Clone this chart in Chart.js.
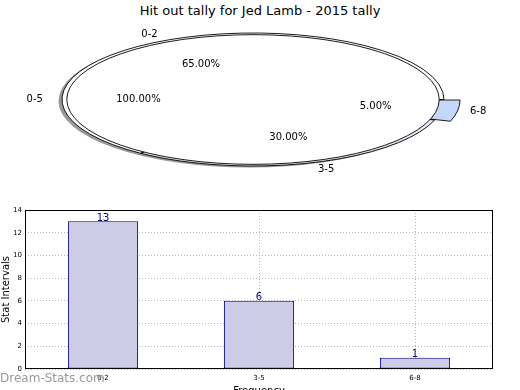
<!DOCTYPE html>
<html>
<head>
<meta charset="utf-8">
<script src="https://cdn.jsdelivr.net/npm/chart.js@4/dist/chart.umd.min.js"></script>
<style>
  html, body { margin: 0; padding: 0; background: #fff; overflow: hidden; }
  body { width: 520px; height: 390px; position: relative; font-family: "DejaVu Sans", sans-serif; }
  #title { position: absolute; left: 0; top: 3px; width: 520px; text-align: center; font-size: 13px; color: #000; }
  .pie { position: absolute; left: 0; top: 0; }
  #bar-chart { position: absolute; left: 0; top: 200px; }
  #mark { position: absolute; left: 0; top: 371px; font-size: 12px; color: #999; z-index: 2; }
</style>
</head>
<body>
<div id="title">Hit out tally for Jed Lamb - 2015 tally</div>
<canvas id="pie-slices" class="pie" width="520" height="200"></canvas>
<canvas id="pie-whole" class="pie" width="520" height="200"></canvas>
<canvas id="bar-chart" width="520" height="190"></canvas>
<div id="mark">Dream-Stats.com</div>
<script>
/* ================== DATA ================== */
const sliceLabels = ['0-2', '3-5', '6-8'];
const sliceCounts = [13, 6, 1];
const sliceColors = ['#ffffff', '#e4ebfa', '#c4d7f8'];
const sliceExplode = [0, 0, 0.05];

const wholeLabels = ['0-5'];
const wholeCounts = [20];
const wholeColors = ['#ffffff'];

const barLabels = ['0-2', '3-5', '6-8'];
const barCounts = [13, 6, 1];
const yTicks = [0, 2, 4, 6, 8, 10, 12, 14];

Chart.defaults.font.family = '"DejaVu Sans", sans-serif';
Chart.defaults.color = '#000';

/* ================== PIES (squashed into an ellipse) ================== */
const ELLIPSE_RX = 191, ELLIPSE_RY = 66.5;
const PIE_W = 520, PIE_H = 200;
const PIE_PAD = { left: 0, right: 14, top: 20, bottom: 21 };
const WHOLE_FRAC = 0.975;   // the 0-5 pie sits just inside the sliced one

// chart.js moves an arc by offset/4; both pies share one fixed radius
const maxExplode = Math.max(...sliceExplode);
const pieSide = Math.min(PIE_W - PIE_PAD.left - PIE_PAD.right, PIE_H - PIE_PAD.top - PIE_PAD.bottom);
const pieRadius = pieSide / (2 + 4 * maxExplode);

// matplotlib goes counter-clockwise from 3 o'clock, chart.js clockwise -> reverse
const rev = arr => arr.slice().reverse();

function squash(chart) {
  const arc = chart.getDatasetMeta(0).data[0];
  return { cx: arc.x, cy: arc.y, R: pieRadius, sx: ELLIPSE_RX / pieRadius, sy: ELLIPSE_RY / pieRadius };
}

function applySquash(ctx, s) {
  ctx.translate(s.cx, s.cy);
  ctx.scale(s.sx, s.sy);
  ctx.translate(-s.cx, -s.cy);
}

function arcPath(ctx, a) {
  const off = (a.options.offset || 0) / 4;
  const mid = (a.startAngle + a.endAngle) / 2;
  const fix = 1 - Math.sin(Math.min(Math.PI, a.circumference || 0));
  const grow = off * fix;
  const x = a.x + Math.cos(mid) * off, y = a.y + Math.sin(mid) * off;
  const ro = a.outerRadius + grow;
  if (a.circumference >= Math.PI * 2 - 1e-6) {
    ctx.moveTo(x + ro, y);
    ctx.arc(x, y, ro, 0, Math.PI * 2);
    return;
  }
  ctx.moveTo(x, y);
  ctx.arc(x, y, ro, a.startAngle, a.endAngle);
  ctx.closePath();
}

// labels at 1.1 r, percentages at 0.6 r (matplotlib pie defaults)
function drawPieLabels(ctx, chart, labels) {
  const s = squash(chart);
  const arcs = chart.getDatasetMeta(0).data;
  const values = chart.data.datasets[0].data;
  const total = values.reduce((p, q) => p + q, 0);
  ctx.save();
  ctx.font = '10px "DejaVu Sans", sans-serif';
  ctx.fillStyle = '#000';
  ctx.textBaseline = 'middle';
  arcs.forEach((a, i) => {
    const off = (a.options.offset || 0) / 4;
    const mid = (a.startAngle + a.endAngle) / 2;
    const cos = Math.cos(mid), sin = Math.sin(mid);
    ctx.textAlign = cos > 0 ? 'left' : 'right';
    ctx.fillText(labels[i],
      s.cx + (1.1 * s.R + off) * cos * s.sx,
      s.cy + (1.1 * s.R + off) * sin * s.sy);
    ctx.textAlign = 'center';
    ctx.fillText((values[i] / total * 100).toFixed(2) + '%',
      s.cx + (0.6 * s.R + off) * cos * s.sx,
      s.cy + (0.6 * s.R + off) * sin * s.sy);
  });
  ctx.restore();
}

// ownLabels: null -> the texts get drawn by the canvas on top instead
function ellipsePlugin(ownLabels, shadow, under) {
  return {
    id: 'ellipse',
    beforeDatasetsDraw(chart) {
      const ctx = chart.ctx;
      const s = squash(chart);
      if (shadow) {
        // offset left/down like matplotlib's shadow=True
        ctx.save();
        ctx.translate(-3.5, 1.5);
        applySquash(ctx, s);
        ctx.beginPath();
        ctx.arc(s.cx, s.cy, s.R, 0, Math.PI * 2);
        ctx.fillStyle = 'rgba(70,70,70,0.55)';
        ctx.fill();
        ctx.restore();
      }
      ctx.save();
      applySquash(ctx, s);
    },
    afterDatasetsDraw(chart) {
      const ctx = chart.ctx;
      ctx.restore();
      const s = squash(chart);

      // edges: path built under the squash, stroked without it (even 1px line)
      ctx.save();
      ctx.strokeStyle = '#000';
      ctx.lineWidth = 0.9;
      chart.getDatasetMeta(0).data.forEach(a => {
        ctx.save();
        applySquash(ctx, s);
        ctx.beginPath();
        arcPath(ctx, a);
        ctx.restore();
        ctx.stroke();
      });
      ctx.restore();

      if (ownLabels) drawPieLabels(ctx, chart, ownLabels);
      if (under) drawPieLabels(ctx, under.chart, under.labels);
    }
  };
}

function makePie(id, labels, counts, colors, explode, radius, opts) {
  return new Chart(document.getElementById(id), {
    type: 'pie',
    data: {
      labels,
      datasets: [{
        data: counts,
        backgroundColor: colors,
        borderWidth: 0,
        clip: false,
        offset: c => explode[c.dataIndex] * 4 * pieRadius,
        hoverOffset: 0
      }]
    },
    options: {
      responsive: false,
      animation: false,
      events: [],
      rotation: 90,
      radius,
      layout: { padding: PIE_PAD },
      plugins: { legend: { display: false }, tooltip: { enabled: false } }
    },
    plugins: [ellipsePlugin(opts.ownLabels, opts.shadow, opts.under)]
  });
}

const slicePie = makePie('pie-slices', rev(sliceLabels), rev(sliceCounts), rev(sliceColors),
  rev(sliceExplode), pieRadius, { ownLabels: null, shadow: true, under: null });
makePie('pie-whole', wholeLabels, wholeCounts, wholeColors, [0], pieRadius * WHOLE_FRAC,
  { ownLabels: wholeLabels, shadow: false, under: { chart: slicePie, labels: rev(sliceLabels) } });

/* ================== BAR CHART ================== */
const barPlugin = {
  id: 'barExtras',
  afterDraw(chart) {
    const { ctx, chartArea: a } = chart;
    ctx.save();
    ctx.strokeStyle = '#000';
    ctx.lineWidth = 1;
    ctx.strokeRect(Math.round(a.left) + 0.5, Math.round(a.top) + 0.5,
      Math.round(a.right - a.left) - 1, Math.round(a.bottom - a.top) - 1);

    ctx.font = '10px "DejaVu Sans", sans-serif';
    ctx.fillStyle = '#000080';
    ctx.textAlign = 'center';
    ctx.textBaseline = 'bottom';
    chart.getDatasetMeta(0).data.forEach((bar, i) => {
      ctx.fillText(String(chart.data.datasets[0].data[i]), bar.x, bar.y + 2);
    });
    ctx.restore();
  }
};

const gridStyle = { color: '#b8b8b8', lineWidth: 1, drawTicks: false };

new Chart(document.getElementById('bar-chart'), {
  type: 'bar',
  data: {
    labels: barLabels,
    datasets: [{
      data: barCounts,
      backgroundColor: '#ccccE6',
      borderColor: '#000080',
      borderWidth: 1,
      borderSkipped: false,
      barPercentage: 0.45,
      categoryPercentage: 1
    }]
  },
  options: {
    responsive: false,
    animation: false,
    events: [],
    layout: { padding: { top: 10, right: 27, left: 0, bottom: 0 } },
    plugins: { legend: { display: false }, tooltip: { enabled: false } },
    scales: {
      x: {
        z: 1,
        offset: true,
        grid: Object.assign({ offset: false }, gridStyle),
        border: { display: false, dash: [1, 2] },
        ticks: { font: { size: 7 }, color: '#000', padding: 5, maxRotation: 0 },
        title: { display: true, text: 'Frequency', font: { size: 10 }, color: '#000', padding: { top: 0, bottom: -7 } },
        afterFit: s => { s.height = 21; }
      },
      y: {
        z: 1,
        min: yTicks[0],
        max: yTicks[yTicks.length - 1],
        afterBuildTicks: s => { s.ticks = yTicks.map(v => ({ value: v })); },
        grid: gridStyle,
        border: { display: false, dash: [1, 2] },
        ticks: { font: { size: 7 }, color: '#000', padding: 3 },
        title: { display: true, text: 'Stat Intervals', font: { size: 10 }, color: '#000', padding: 0 },
        afterFit: s => { s.width = 25; }
      }
    }
  },
  plugins: [barPlugin]
});
</script>
</body>
</html>
